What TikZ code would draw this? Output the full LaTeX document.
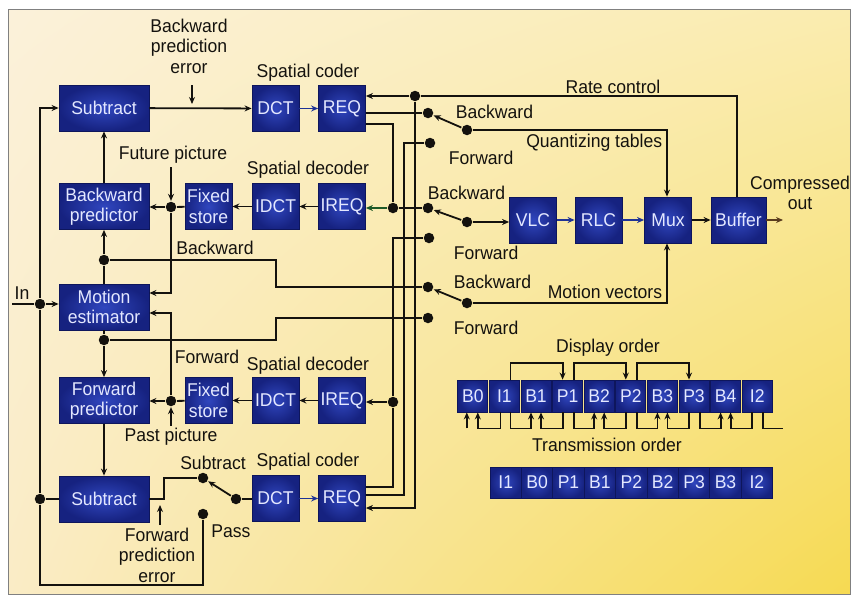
\documentclass[tikz,border=0pt]{standalone}
\usepackage{fontspec}
\setmainfont{Liberation Sans}[FakeStretch=0.95]
\usetikzlibrary{arrows.meta,calc,shadings}
\newcommand\dfont{\fontsize{18.5}{20.5}\selectfont}
\definecolor{navy}{RGB}{14,22,92}
\definecolor{blkin}{RGB}{48,70,190}
\definecolor{blkout}{RGB}{22,34,128}
\definecolor{btext}{RGB}{228,232,255}
\definecolor{wire}{RGB}{20,18,14}
\definecolor{bwire}{RGB}{30,50,150}
\definecolor{gwire}{RGB}{30,90,40}
\definecolor{bgA}{RGB}{251,241,218}
\definecolor{bgB}{RGB}{250,236,175}
\definecolor{bgC}{RGB}{250,236,198}
\definecolor{bgD}{RGB}{246,218,82}
\tikzset{
  blk/.style={draw=navy, line width=0.8pt, inner color=blkin, outer color=blkout,
    text=btext, font=\dfont, minimum height=46pt, inner sep=0pt, align=center},
  bw/.style={minimum width=90pt},
  sw/.style={minimum width=47pt},
  fbox/.style={draw=navy, line width=0.8pt, inner color=blkin, outer color=blkout,
    text=btext, font=\dfont, minimum width=30pt, minimum height=32pt, inner sep=0pt},
  dot/.style={circle, fill=wire, draw=none, inner sep=0pt, minimum size=10.5pt},
  lbl/.style={font=\dfont, text=wire, inner sep=0pt, align=center},
  arr/.style={-{Stealth[length=7pt,width=6pt]}},
}
\begin{document}
\begin{tikzpicture}[x=1pt,y=-1pt,line width=1.8pt,draw=wire]
\useasboundingbox (0,0) rectangle (855,597);
\fill[white] (0,0) rectangle (855,597);
\shade[upper left=bgA, upper right=bgB, lower left=bgC, lower right=bgD] (8,9) rectangle (850,594);
\draw[line width=0.8pt, draw=gray] (8,9) rectangle (850,594);

% ---------- blocks ----------
\node[blk,bw] (sub1) at (104,108) {Subtract};
\node[blk,sw] (dct1) at (275.5,108.5) {DCT};
\node[blk,sw] (req1) at (342,108.5) {REQ};
\node[blk,bw] (bp) at (104,206.5) {Backward\\predictor};
\node[blk,sw] (fs1) at (208.5,206.5) {Fixed\\store};
\node[blk,sw] (idct1) at (275.5,206.5) {IDCT};
\node[blk,sw] (ireq1) at (342,206.5) {IREQ};
\node[blk,bw] (me) at (104,307) {Motion\\estimator};
\node[blk,bw] (fp) at (104,400.5) {Forward\\predictor};
\node[blk,sw] (fs2) at (208.5,400.5) {Fixed\\store};
\node[blk,sw] (idct2) at (275.5,400.5) {IDCT};
\node[blk,sw] (ireq2) at (342,400.5) {IREQ};
\node[blk,bw] (sub2) at (104,499) {Subtract};
\node[blk,sw] (dct2) at (275.5,498.5) {DCT};
\node[blk,sw] (req2) at (342,498.5) {REQ};
\node[blk,sw] (vlc) at (533,220) {VLC};
\node[blk,sw] (rlc) at (598.5,220) {RLC};
\node[blk,sw] (mux) at (668,220) {Mux};
\node[blk,minimum width=55pt] (buf) at (738.5,220) {Buffer};

% ---------- dots ----------
\node[dot] (jIn) at (40,304) {};
\node[dot] (jS2) at (40,499) {};
\node[dot] (jB) at (104,260) {};
\node[dot] (jF) at (104,340) {};
\node[dot] (jFut) at (171,207) {};
\node[dot] (jPast) at (171,401) {};
\node[dot] (jR) at (415,96) {};
\node[dot] (jI1) at (393,208) {};
\node[dot] (jI2) at (393,402) {};
\node[dot] (qB) at (428,113) {};
\node[dot] (qF) at (430,143) {};
\node[dot] (vB) at (428,208) {};
\node[dot] (vF) at (429,238) {};
\node[dot] (mB) at (428,287) {};
\node[dot] (mF) at (428,318) {};
\node[dot] (qP) at (467,130) {};
\node[dot] (vP) at (467,222) {};
\node[dot] (mP) at (467,303) {};
\node[dot] (cSub) at (203,478) {};
\node[dot] (cPass) at (203,514) {};
\node[dot] (piv2) at (236,499) {};

% ---------- bend points ----------
\coordinate (inS) at (12,304);
\coordinate (lb) at (40,585);
\coordinate (k1) at (164,499);
\coordinate (k2) at (276,287);
\coordinate (k3) at (276,318);
\coordinate (k4) at (171,293);
\coordinate (k5) at (171,313);
\coordinate (b1) at (393,124);
\coordinate (b2) at (393,487);
\coordinate (b3) at (404,495);
\coordinate (b4) at (415,508);
\coordinate (qk) at (667,130);
\coordinate (mk) at (667,303);
\coordinate (rk) at (737,96);
\coordinate (outE) at (783,220);
\coordinate (fa) at (171,167);
\coordinate (pa) at (171,426);
\coordinate (bpe) at (192,85);
\coordinate (fpe) at (160,525);

% ---------- left side wiring ----------
\draw[arr] (inS) -- (jIn) -- (jIn -| me.west);
\draw[arr] (jIn) |- (sub1.west);
\draw (jIn) -- (jS2) -- (lb) -| (cPass);
\draw (jS2) -- (jS2 -| sub2.west);
\draw (sub2.east) -- (k1) |- (cSub);
\draw[arr] (fpe) -- ++(0,-20);
\draw[arr] (piv2) -- (cSub);
\draw (piv2) -- (piv2 -| dct2.west);
\draw[arr,draw=bwire] (dct2) -- (req2);

\draw[arr] (sub1) -- (dct1);
\draw[arr] (bpe) -- ++(0,19);
\draw[arr,draw=bwire] (dct1) -- (req1);
\draw[arr] (bp) -- (sub1);

\draw[arr] (ireq1) -- (idct1);
\draw[arr] (idct1) -- (fs1);
\draw (fs1) -- (jFut);
\draw[arr] (jFut) -- (jFut -| bp.east);
\draw[arr] (jFut) -- (k4) -- (k4 -| me.east);
\draw[arr] (fa) -- (jFut);

\draw (me) -- (jB);
\draw[arr] (jB) -- (bp);
\draw (jB) -| (k2) -- (mB);
\draw (me) -- (jF);
\draw[arr] (jF) -- (fp);
\draw (jF) -| (k3) -- (mF);

\draw[arr] (ireq2) -- (idct2);
\draw[arr] (idct2) -- (fs2);
\draw (fs2) -- (jPast);
\draw[arr] (jPast) -- (jPast -| fp.east);
\draw[arr] (jPast) -- (k5) -- (k5 -| me.east);
\draw[arr] (pa) -- (jPast);
\draw[arr] (fp) -- (sub2);

% ---------- bus ----------
\draw (req1.east |- qB) -- (qB);
\draw (req1.east |- b1) -- (b1) -- (jI1) -- (vB);
\draw[arr,draw=gwire] (jI1) -- (jI1 -| ireq1.east);
\draw (req2.east |- b2) -- (b2) -- (jI2) -- (vF -| b2) -- (vF);
\draw[arr] (jI2) -- (jI2 -| ireq2.east);
\draw (req2.east |- b3) -- (b3) -- (b3 |- qF) -- (qF);
\draw (buf.north -| rk) -- (rk) -- (jR);
\draw[arr] (jR) -- (jR -| req1.east);
\draw[arr] (jR) -- (b4) -- (b4 -| req2.east);

% ---------- switches ----------
\draw[arr] (qP) -- (qB);
\draw[arr] (qP) -- (qk) -- (qk |- mux.north);
\draw[arr] (vP) -- (vB);
\draw[arr] (vP) -- (vP -| vlc.west);
\draw[arr] (mP) -- (mB);
\draw[arr] (mP) -- (mk) -- (mk |- mux.south);
\draw[arr,draw=bwire] (vlc) -- (rlc);
\draw[arr,draw=bwire] (rlc) -- (mux);
\draw[arr] (mux) -- (buf);
\draw[arr,draw={rgb,255:red,90;green,60;blue,30}] (buf) -- (outE);

% ---------- labels ----------
\node[lbl] at (189,46) {Backward\\prediction\\error};
\node[lbl] at (308,73) {Spatial coder};
\node[lbl] at (308,170) {Spatial decoder};
\node[lbl] at (173,155) {Future picture};
\node[lbl] at (215,248) {Backward};
\node[lbl] at (22,293) {In};
\node[lbl] at (207,357) {Forward};
\node[lbl] at (308,366) {Spatial decoder};
\node[lbl] at (171,437) {Past picture};
\node[lbl] at (213,463) {Subtract};
\node[lbl] at (308,462) {Spatial coder};
\node[lbl] at (231,531) {Pass};
\node[lbl] at (157,555) {Forward\\prediction\\error};
\node[lbl] at (613,87) {Rate control};
\node[lbl,anchor=west] at (455,112) {Backward};
\node[lbl,anchor=east] at (663,143) {Quantizing tables};
\node[lbl,anchor=west] at (448,158) {Forward};
\node[lbl,anchor=west] at (427,193) {Backward};
\node[lbl,anchor=west] at (453,253) {Forward};
\node[lbl,anchor=west] at (453,282) {Backward};
\node[lbl,anchor=east] at (663,292) {Motion vectors};
\node[lbl,anchor=west] at (453,328) {Forward};
\node[lbl] at (800,193) {Compressed\\out};
\node[lbl] at (608,348) {Display order};
\node[lbl] at (607,445) {Transmission order};

% ---------- frame orders ----------
\foreach \t [count=\i from 0] in {B0,I1,B1,P1,B2,P2,B3,P3,B4,I2}
  \node[fbox] (d\i) at ({472.8+31.6*\i},396) {\t};
\foreach \t [count=\i from 0] in {I1,B0,P1,B1,P2,B2,P3,B3,I2}
  \node[fbox,minimum width=31.4pt,minimum height=31pt] (t\i) at ({505.7+31.4*\i},482.5) {\t};

\draw[arr] ([xshift=6pt]d1.north) -- ++(0,-17) -| ([xshift=-5pt]d3.north);
\draw[arr] ([xshift=6pt]d3.north) -- ++(0,-17) -| ([xshift=-5pt]d5.north);
\draw[arr] ([xshift=6pt]d5.north) -- ++(0,-17) -| ([xshift=-5pt]d7.north);

\draw[arr] ([xshift=-6pt,yshift=-16pt]d0.south) -- ([xshift=-6pt]d0.south);
\draw[arr] ([xshift=-4pt]d1.south) -- ++(0,16) -| ([xshift=5pt]d0.south);
\draw[arr] ([xshift=6pt]d1.south) -- ++(0,16) -| ([xshift=-5pt]d2.south);
\draw[arr] ([xshift=-5pt]d3.south) -- ++(0,16) -| ([xshift=5pt]d2.south);
\draw[arr] ([xshift=6pt]d3.south) -- ++(0,16) -| ([xshift=-5pt]d4.south);
\draw[arr] ([xshift=-5pt]d5.south) -- ++(0,16) -| ([xshift=5pt]d4.south);
\draw[arr] ([xshift=6pt]d5.south) -- ++(0,16) -| ([xshift=-5pt]d6.south);
\draw[arr] ([xshift=-5pt]d7.south) -- ++(0,16) -| ([xshift=5pt]d6.south);
\draw[arr] ([xshift=6pt]d7.south) -- ++(0,16) -| ([xshift=-5pt]d8.south);
\draw[arr] ([xshift=-5pt]d9.south) -- ++(0,16) -| ([xshift=5pt]d8.south);
\draw ([xshift=6pt]d9.south) -- ++(0,16) -- ++(20,0);
\end{tikzpicture}
\end{document}
